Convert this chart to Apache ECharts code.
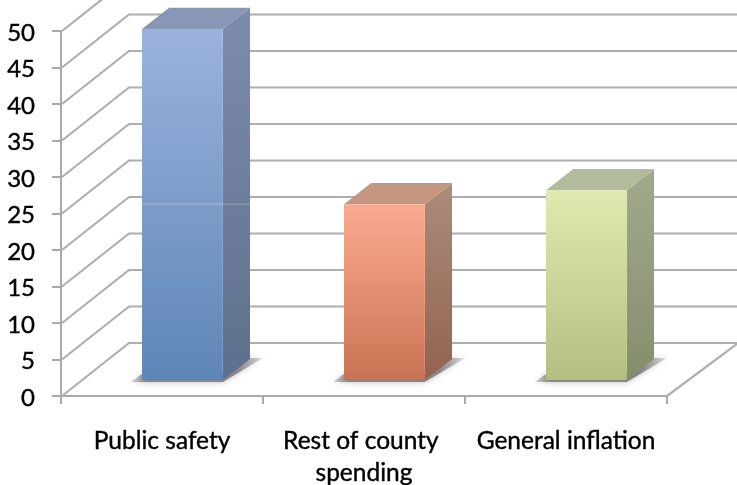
<!DOCTYPE html>
<html><head><meta charset="utf-8">
<style>html,body{margin:0;padding:0;background:#fff}#c{width:737px;height:485px}</style>
<script src="https://cdn.jsdelivr.net/npm/echarts@6/dist/echarts.min.js"></script>
</head><body><div id="c"></div>
<script>
const categories = ['Public safety', 'Rest of county spending', 'General inflation'];
const values = [48.1, 24.1, 26];
const yTicks = [0, 5, 10, 15, 20, 25, 30, 35, 40, 45, 50];

const palette = [
  {ft:'#9cb2de', fb:'#5d86b6', st:'#7e8cab', sb:'#5e6f8b', top:'#8897b5'},
  {ft:'#fcab90', fb:'#c87252', st:'#ac8c7c', sb:'#92624f', top:'#c4957f'},
  {ft:'#e0eab0', fb:'#b3bf7f', st:'#a2aa8e', sb:'#848d6b', top:'#b2bc9b'}
];
const DX = 68, DY = 53, NEAR = 0.3, FAR = 0.7, WIDTH = 0.4;
const grid = '#aeaeb0';
const vg = (a, b) => new echarts.graphic.LinearGradient(0, 0, 0, 1, [{offset:0,color:a},{offset:1,color:b}]);

function renderGrid(params, api) {
  const v = api.value(0), cs = params.coordSys;
  const y = api.coord([0, v])[1];
  const x0 = cs.x, x1 = cs.x + cs.width;
  const ch = [{type:'polyline', shape:{points:[[x0+1,y],[x0+DX,y-DY],[737,y-DY]]},
    style:{stroke:grid, lineWidth:2.2, fill:null}}];
  if (v === 0) ch.push({type:'line', shape:{x1:x1,y1:y,x2:737,y2:y-DY+1}, style:{stroke:grid, lineWidth:2.2}});
  return {type:'group', children:ch};
}
function renderBar(params, api) {
  const i = api.value(0), v = api.value(1), p = palette[i];
  const band = api.size([1,0])[0];
  const cx = api.coord([i,0])[0], y0 = api.coord([i,0])[1], yv = api.coord([i,v])[1];
  const w = band*WIDTH, sx = NEAR*DX, sy = NEAR*DY;
  const l = cx-w/2+sx, r = cx+w/2+sx, b = y0-sy, t = yv-sy;
  const ox = (FAR-NEAR)*DX, oy = (FAR-NEAR)*DY;
  const shade = new echarts.graphic.LinearGradient(0, 0, 1, 0, [
    {offset:0, color:'rgba(140,140,142,.35)'}, {offset:.12, color:'rgba(125,125,128,.9)'},
    {offset:.8, color:'rgba(125,125,128,.9)'}, {offset:1, color:'rgba(140,140,142,.25)'}]);
  const children = [
    {type:'polygon', shape:{points:[[l-11,b+2],[r,b+2],[r+ox+13,b-oy-1],[r+ox,b-oy-1],[r,b-6],[l,b-6]]},
      style:{fill:shade, shadowBlur:6, shadowColor:'rgba(150,150,150,.7)'}},
    {type:'polygon', shape:{points:[[r,t],[r+ox,t-oy],[r+ox,b-oy],[r,b]]}, style:{fill:vg(p.st,p.sb)}},
    {type:'polygon', shape:{points:[[l,t],[l+ox,t-oy],[r+ox,t-oy],[r,t]]}, style:{fill:p.top}},
    {type:'rect', shape:{x:l,y:t,width:r-l,height:b-t}, style:{fill:vg(p.ft,p.fb)}}
  ];
  if (i === 0) {
    const ym = api.coord([1, values[1]])[1] - sy;
    children.push({type:'line', shape:{x1:l,y1:ym,x2:r+ox,y2:ym}, style:{stroke:'rgba(255,255,255,.3)', lineWidth:1}});
  }
  return {type:'group', children};
}
const chart = echarts.init(document.getElementById('c'), null, {renderer:'canvas'});
chart.setOption({
  animation:false,
  grid:{left:61, right:70, top:31, bottom:89, outerBoundsMode:'none', containLabel:false},
  xAxis:{type:'category', data:categories,
    axisLine:{lineStyle:{color:'#a9a9ab', width:2}},
    axisTick:{show:true, length:8, lineStyle:{color:'#a9a9ab', width:2}},
    axisLabel:{color:'#000', fontFamily:'Lato', fontSize:24.5, margin:29, lineHeight:32, width:190, overflow:'break', interval:0,
      textBorderColor:'#000', textBorderWidth:0.4},
    splitLine:{show:false}},
  yAxis:{type:'value', min:0, max:50, interval:5,
    axisLine:{show:true, lineStyle:{color:'#a9a9ab', width:2}},
    axisTick:{show:true, length:9, lineStyle:{color:'#a9a9ab', width:2}},
    axisLabel:{color:'#000', fontFamily:'Lato', fontSize:24, margin:26, lineHeight:24, verticalAlign:'bottom', padding:[0,0,-14,0],
      textBorderColor:'#000', textBorderWidth:0.4},
    splitLine:{show:false}},
  series:[
    {type:'custom', renderItem:renderGrid, data:yTicks.map(v=>[v]), encode:{y:0}, z:1, silent:true},
    {type:'custom', renderItem:renderBar, data:values.map((v,i)=>[i,v]), encode:{x:0,y:1}, z:2, silent:true}
  ]
});
</script></body></html>
